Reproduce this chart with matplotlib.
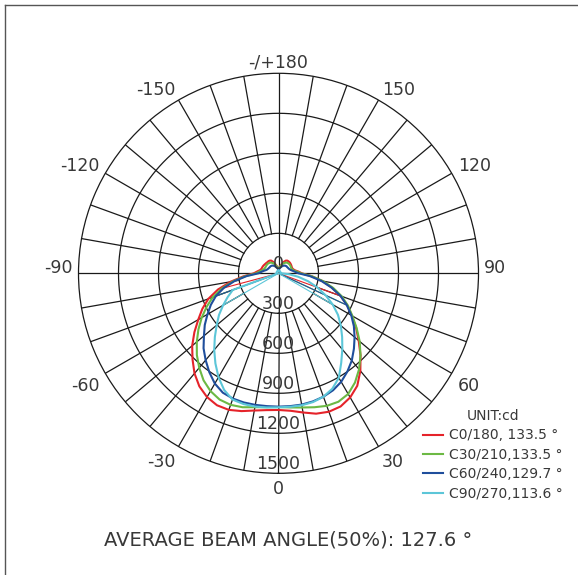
import numpy as np
import matplotlib.pyplot as plt

# gamma angle in degrees, 0 = straight down, positive towards the right
angles = list(range(-180, 185, 5))

# luminous intensity (cd), one value per angle above
c0_180 = [32, 38, 48, 60, 75, 95, 110, 116, 118, 118, 120, 122, 125, 128, 130, 132, 140, 160,
          185, 265, 365, 470, 560, 630, 695, 770, 845, 912, 980, 1035, 1072, 1092, 1090, 1070, 1045, 1030,
          1025,
          1035, 1060, 1090, 1105, 1102, 1075, 1030, 955, 870, 785, 710, 635, 570, 495, 415, 335, 250, 175,
          150, 126, 115, 110, 110, 112, 114, 116, 117, 117, 116, 110, 95, 75, 60, 48, 38, 32]
c30_210 = [32, 38, 45, 55, 68, 80, 90, 98, 103, 106, 108, 108, 108, 108, 110, 115, 125, 145,
           168, 250, 345, 440, 525, 595, 665, 733, 800, 866, 925, 980, 1020, 1045, 1050, 1040, 1020, 1008,
           1003,
           1010, 1022, 1040, 1058, 1063, 1045, 1000, 940, 870, 795, 715, 640, 575, 505, 425, 340, 250, 168,
           140, 118, 108, 104, 104, 105, 106, 106, 105, 103, 98, 90, 80, 68, 55, 45, 38, 32]
c60_240 = [30, 32, 36, 42, 48, 56, 64, 70, 75, 78, 80, 80, 82, 84, 88, 95, 110, 128,
           150, 240, 335, 425, 500, 560, 615, 675, 730, 795, 850, 905, 955, 988, 1000, 1003, 1002, 1000,
           1000,
           1000, 1000, 995, 985, 968, 940, 900, 855, 800, 745, 690, 630, 565, 495, 410, 325, 235, 150,
           125, 108, 95, 88, 84, 82, 80, 80, 78, 75, 70, 64, 56, 48, 42, 36, 32, 30]
c90_270 = [20, 20, 20, 18, 18, 18, 18, 18, 18, 16, 16, 16, 16, 16, 15, 15, 15, 15,
           15, 15, 15, 15, 365, 420, 480, 545, 605, 675, 750, 825, 900, 965, 1008, 1015, 1015, 1010,
           1005,
           1005, 1005, 1000, 985, 955, 905, 820, 745, 675, 610, 545, 470, 390, 310, 230, 150, 80, 20,
           15, 15, 15, 15, 16, 16, 16, 16, 18, 18, 18, 18, 18, 18, 20, 20, 20, 20]

series = [c0_180, c30_210, c60_240, c90_270]
series_labels = ['C0/180, 133.5 °', 'C30/210,133.5 °', 'C60/240,129.7 °', 'C90/270,113.6 °']
series_colors = ['#e5232a', '#6cb944', '#1f4e9c', '#5cc6d8']
# angles where a thin chord runs from the centre to the curve
spoke_angles = [[-75, 70], [-70, 65], [-70, 65], [-60, 60]]

ring_values = [300, 600, 900, 1200, 1500]
angle_ticks = [0, 30, 60, 90, 120, 150, 180, -150, -120, -90, -60, -30]
angle_tick_labels = ['0', '30', '60', '90', '120', '150', '-/+180', '-150', '-120', '-90', '-60', '-30']
avg_beam = 127.6

grid_c = '#1a1a1a'
text_c = '#383838'

fig = plt.figure(figsize=(5.78, 5.75), dpi=100)
ax = fig.add_axes([78.5 / 578, (575 - 273.3 - 200) / 575, 400 / 578, 400 / 575],
                  projection='polar')
ax.set_theta_zero_location('S')
ax.set_theta_direction(1)
ax.grid(False)
ax.set_xticks([])
ax.set_yticks([])
ax.spines['polar'].set_color(grid_c)
ax.spines['polar'].set_linewidth(0.9)

# grid: rings and spokes (spokes start at the first ring, except the axes)
th = np.linspace(0, 2 * np.pi, 721)
for rv in ring_values[:-1]:
    ax.plot(th, np.full_like(th, rv), color=grid_c, lw=0.9)
for a in range(0, 360, 10):
    r0 = 0 if a % 90 == 0 else ring_values[0]
    ax.plot([np.radians(a)] * 2, [r0, ring_values[-1]], color=grid_c, lw=0.9)

# ring labels along the 0 direction
ax.text(0, 0, '0', ha='center', va='bottom', fontsize=12.5, color=text_c)
for rv in ring_values:
    ax.text(0, rv, str(rv), ha='center', va='bottom', fontsize=12.5, color=text_c)

# angle labels, anchored just outside the outer ring
for a, lab in zip(angle_ticks, angle_tick_labels):
    ux = np.sin(np.radians(a))
    uy = np.cos(np.radians(a))      # positive = downwards on screen
    ha = 'left' if ux > 0.1 else ('right' if ux < -0.1 else 'center')
    va = 'top' if uy > 0.1 else ('bottom' if uy < -0.1 else 'center')
    dx, dy = 5.0 * ux, -5.0 * uy
    if va == 'center':
        dx = 4.0 * ux
        dy += 3.5
    elif va == 'bottom':
        dy -= 3.5
    ax.annotate(lab, (np.radians(a), ring_values[-1]), xytext=(dx, dy), textcoords='offset points',
                ha=ha, va=va, fontsize=12.5, color=text_c, annotation_clip=False)

rad = np.radians(angles)
handles = []
for vals, col, lab, spk in zip(series, series_colors, series_labels, spoke_angles):
    ln, = ax.plot(rad, vals, color=col, lw=1.5, label=lab)
    handles.append(ln)
    for s in spk:
        v = vals[angles.index(s)]
        ax.plot([0, np.radians(s)], [0, v], color=col, lw=0.8)

ax.set_ylim(0, 1500)

leg = fig.legend(handles=handles, title='UNIT:cd', loc='upper left',
                 bbox_to_anchor=(423 / 578, 1 - 409 / 575), frameon=False,
                 fontsize=10, title_fontsize=10, handlelength=1.45, handletextpad=0.4,
                 labelspacing=0.39, borderpad=0, borderaxespad=0)
for t in leg.get_texts():
    t.set_color(text_c)
leg.get_title().set_color(text_c)

fig.text(288 / 578, 1 - 540 / 575, 'AVERAGE BEAM ANGLE(50%%): %.1f °' % avg_beam,
         ha='center', va='center', fontsize=14, color=text_c)

# frame lines on top and left edge
fig.add_artist(plt.Line2D([5 / 578, 1], [1 - 5 / 575] * 2, color='#555555', lw=1))
fig.add_artist(plt.Line2D([5 / 578] * 2, [0, 1 - 5 / 575], color='#555555', lw=1))

fig.savefig('out.png', dpi=100)
